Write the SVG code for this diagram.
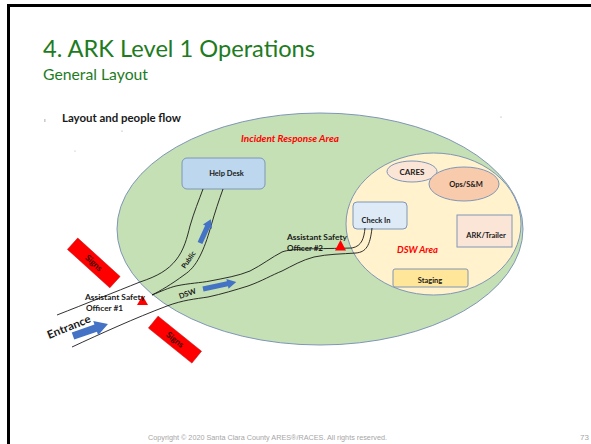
<svg xmlns="http://www.w3.org/2000/svg" width="591" height="444" viewBox="0 0 591 444">
<style>
text{font-family:Lato,"Open Sans","Liberation Sans",Arial,sans-serif}
.t{font-size:7.5px;font-weight:bold;fill:#1a1a1a}
.red{fill:#ff0000;font-weight:bold;font-style:italic}
.flow{fill:none;stroke:#1a1a1a;stroke-width:0.9}
.sign{fill:#ff0000;stroke:#c00000;stroke-width:0.5}
.signt{font-size:8.5px;fill:#3a0000;font-weight:bold}
.arrow{fill:#4472c4}
.tri{fill:#ff0000}
.copy{font-family:"Liberation Sans",Arial,sans-serif}
</style>
<rect x="0" y="0" width="591" height="444" fill="#ffffff"/>
<rect x="8.5" y="5.5" width="600" height="460" fill="none" stroke="#000" stroke-width="3"/>
<text x="43" y="57" font-size="23" fill="#1e7b1e" textLength="272" lengthAdjust="spacingAndGlyphs">4. ARK Level 1 Operations</text>
<text x="43" y="80" font-size="15" fill="#1e7b1e" textLength="105" lengthAdjust="spacingAndGlyphs">General Layout</text>
<text x="62" y="122" font-size="11" font-weight="bold" fill="#1a1a1a" textLength="119" lengthAdjust="spacingAndGlyphs">Layout and people flow</text>
<g fill="#999">
<rect x="44.5" y="119" width="0.8" height="3"/>
<circle cx="122" cy="131" r="0.6"/>
<circle cx="75" cy="151" r="0.5"/>
<circle cx="276" cy="218" r="0.5"/>
<circle cx="282" cy="220" r="0.5"/>
<circle cx="501" cy="117" r="0.6"/>
</g>
<g id="incident-area">
<ellipse cx="320" cy="229" rx="203" ry="116" fill="#c5e0b4" stroke="#7f96b8" stroke-width="1"/>
<text x="241" y="142" class="red" font-size="8.5" textLength="98" lengthAdjust="spacingAndGlyphs">Incident Response Area</text>
</g>
<g id="dsw-area">
<ellipse cx="433.5" cy="224" rx="87.5" ry="71" fill="#fff2cc" stroke="#7f96b8" stroke-width="1"/>
<text x="397" y="253" class="red" font-size="9" textLength="41" lengthAdjust="spacingAndGlyphs">DSW Area</text>
</g>
<g id="help-desk">
<rect x="182" y="158" width="83" height="31" rx="5" fill="#bdd7ee" stroke="#7f96b8" stroke-width="1"/>
<text x="226.5" y="175.5" class="t" font-size="7" text-anchor="middle">Help Desk</text>
</g>
<g id="cares">
<ellipse cx="412" cy="171.5" rx="25" ry="10.5" fill="#fbe5d6" stroke="#7f96b8" stroke-width="1"/>
<text x="412" y="174.5" font-size="8" fill="#1a1a1a" text-anchor="middle" font-weight="bold">CARES</text>
</g>
<g id="ops">
<ellipse cx="464" cy="184" rx="35" ry="17" fill="#f8cbad" stroke="#7f96b8" stroke-width="1"/>
<text x="466" y="187" class="t" font-size="8" text-anchor="middle">Ops/S&amp;M</text>
</g>
<g id="check-in">
<rect x="353" y="202" width="54" height="27" rx="4" fill="#deebf7" stroke="#7f96b8" stroke-width="1"/>
<text x="376" y="223" class="t" font-size="8" text-anchor="middle">Check In</text>
</g>
<g id="ark-trailer">
<rect x="457" y="215" width="55" height="32" fill="#fbe5d6" stroke="#7f96b8" stroke-width="1"/>
<text x="486" y="237.5" class="t" font-size="8" text-anchor="middle">ARK/Trailer</text>
</g>
<g id="staging">
<rect x="393" y="269" width="75" height="18" rx="2" fill="#ffe699" stroke="#7f96b8" stroke-width="1"/>
<text x="430" y="283" class="t" font-size="8" text-anchor="middle">Staging</text>
</g>
<g id="connectors">
<path class="flow" d="M57,315 C85,304 115,292 140,282 C158,276 168,270 176,260 C184,250 187,238 190,226 C194,212 199,200 203,189"/>
<path class="flow" d="M223,189 C219,200 215,212 211,226 C207,240 204,248 200,256 C195,266 190,271 184,275 C172,284 160,291 152,295"/>
<path class="flow" d="M152,295 C162,291 168,288 176,286 C190,283 200,283 210,281 C225,278 238,276 250,271 C262,265 272,257 282,252 C292,248 320,249 352,248 C362,246 364,238 365,228"/>
<path class="flow" d="M72,347 C100,334 135,318 167,306 C183,300 195,299 208,297 C222,294 235,290 248,286 C262,281 272,275 282,271 C292,266 302,260 314,257 C328,254 342,254 356,253 C366,252 370,246 372,228"/>
</g>
<g id="public-arrow">
<polygon class="arrow" transform="translate(200,243) rotate(-65.4)" points="0,-2.6 18,-2.6 18,-5 26,0 18,5 18,2.6 0,2.6"/>
<text transform="translate(185,269) rotate(-55)" font-size="7" font-weight="bold" fill="#1a1a1a">Public</text>
</g>
<g id="dsw-arrow">
<polygon class="arrow" transform="translate(203,289) rotate(-12)" points="0,-2.6 25,-2.6 25,-5 34,0 25,5 25,2.6 0,2.6"/>
<text transform="translate(180,299) rotate(-20)" font-size="7.5" font-weight="bold" fill="#1a1a1a">DSW</text>
</g>
<g id="entrance">
<polygon class="arrow" transform="translate(73,336) rotate(-19)" points="0,-3.8 24,-3.8 24,-7.5 37,0 24,7.5 24,3.8 0,3.8"/>
<text transform="translate(49,339) rotate(-22)" font-size="11" font-weight="bold" fill="#1a1a1a" textLength="46" lengthAdjust="spacingAndGlyphs">Entrance</text>
</g>
<g id="sign-1">
<rect class="sign" x="-28.6" y="-7.6" width="57.2" height="15.3" transform="translate(93.8,262.9) rotate(42.2)"/>
<text class="signt" transform="translate(93.8,262.9) rotate(42.2)" x="0" y="3" text-anchor="middle">Signs</text>
</g>
<g id="sign-2">
<rect class="sign" x="-27.9" y="-7.6" width="55.8" height="15.3" transform="translate(175,339.6) rotate(38.9)"/>
<text class="signt" transform="translate(175,339.6) rotate(38.9)" x="0" y="3" text-anchor="middle">Signs</text>
</g>
<g id="aso-1">
<polygon class="tri" points="142.5,295.5 137,305 148,305"/>
<text x="85" y="300" class="t" textLength="60" lengthAdjust="spacingAndGlyphs">Assistant Safety</text>
<text x="86" y="311" class="t" textLength="37" lengthAdjust="spacingAndGlyphs">Officer #1</text>
</g>
<g id="aso-2">
<polygon class="tri" points="340.5,240 335,250.5 346,250.5"/>
<text x="287" y="239.5" class="t" textLength="60" lengthAdjust="spacingAndGlyphs">Assistant Safety</text>
<text x="287" y="250.5" class="t" textLength="36" lengthAdjust="spacingAndGlyphs">Officer #2</text>
</g>
<text class="copy" x="148" y="439.5" font-size="7" fill="#a6a6a6" textLength="239" lengthAdjust="spacingAndGlyphs">Copyright © 2020 Santa Clara County ARES®/RACES.  All rights reserved.</text>
<text class="copy" x="580" y="439.5" font-size="8" fill="#a6a6a6">73</text>
</svg>
